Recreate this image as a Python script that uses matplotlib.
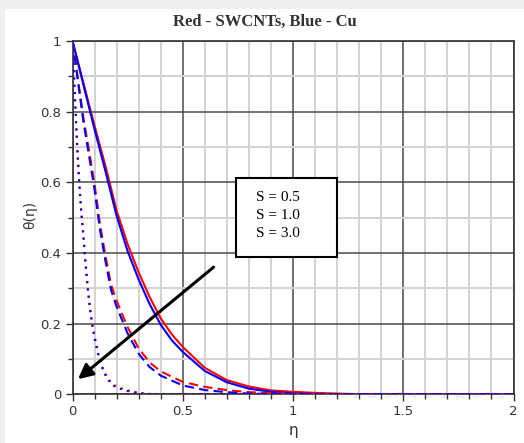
import matplotlib
matplotlib.use("Agg")
import matplotlib.pyplot as plt
from matplotlib.patches import Rectangle
from matplotlib.ticker import MultipleLocator

# ---- data ----
eta_s05 = [0, 0.05, 0.1, 0.15, 0.2, 0.25, 0.3, 0.35, 0.4, 0.45, 0.5, 0.6, 0.7, 0.8, 0.9, 1.0, 1.1, 1.2, 1.33, 2.0]
red_s05 = [1.0, 0.88, 0.76, 0.645, 0.52, 0.425, 0.345, 0.275, 0.215, 0.17, 0.134, 0.075, 0.04, 0.022, 0.011, 0.007, 0.004, 0.002, 0.0, 0.0]
blue_s05 = [1.0, 0.875, 0.75, 0.63, 0.505, 0.405, 0.325, 0.255, 0.197, 0.153, 0.12, 0.066, 0.034, 0.016, 0.007, 0.003, 0.001, 0.0, 0.0, 0.0]

eta_s10 = [0, 0.025, 0.05, 0.075, 0.1, 0.125, 0.15, 0.175, 0.2, 0.25, 0.3, 0.35, 0.4, 0.5, 0.6, 0.7, 0.8, 0.92, 1.1, 1.3, 2.0]
red_s10 = [1.0, 0.89, 0.78, 0.69, 0.595, 0.48, 0.39, 0.31, 0.265, 0.19, 0.13, 0.09, 0.065, 0.035, 0.021, 0.012, 0.006, 0.003, 0.001, 0.0, 0.0]
blue_s10 = [1.0, 0.885, 0.77, 0.675, 0.58, 0.465, 0.375, 0.295, 0.248, 0.172, 0.115, 0.077, 0.053, 0.025, 0.012, 0.006, 0.002, 0.001, 0.0, 0.0, 0.0]

eta_s30 = [0, 0.01, 0.02, 0.03, 0.04, 0.05, 0.06, 0.07, 0.08, 0.09, 0.1, 0.12, 0.14, 0.16, 0.18, 0.2, 0.25, 0.3, 0.35, 0.4, 2.0]
red_s30 = [1.0, 0.86, 0.72, 0.61, 0.52, 0.45, 0.37, 0.3, 0.245, 0.2, 0.165, 0.108, 0.07, 0.046, 0.03, 0.022, 0.011, 0.004, 0.001, 0.0, 0.0]
blue_s30 = [1.0, 0.855, 0.715, 0.6, 0.51, 0.44, 0.36, 0.29, 0.237, 0.193, 0.158, 0.102, 0.065, 0.042, 0.027, 0.019, 0.009, 0.003, 0.001, 0.0, 0.0]

box_labels = ["S = 0.5", "S = 1.0", "S = 3.0"]
title_text = "Red - SWCNTs, Blue - Cu"
xticks = [0, 0.5, 1, 1.5, 2]
xticklabels = ["0", "0.5", "1", "1.5", "2"]
yticks = [0, 0.2, 0.4, 0.6, 0.8, 1]
yticklabels = ["0", "0.2", "0.4", "0.6", "0.8", "1"]

# ---- figure ----
fig = plt.figure(figsize=(5.24, 4.43), dpi=100, facecolor="#efefef")
fig.patches.append(Rectangle((5 / 524, 0), 1, (443 - 9) / 443, transform=fig.transFigure,
                             facecolor="white", edgecolor="none", zorder=-10))

ax = fig.add_axes([72.5 / 524, 1 - 394.3 / 443, (513.5 - 72.5) / 524, (394.3 - 41) / 443])
ax.set_facecolor("white")
ax.set_xlim(0, 2)
ax.set_ylim(0, 1)

ax.xaxis.set_major_locator(MultipleLocator(0.5))
ax.xaxis.set_minor_locator(MultipleLocator(0.1))
ax.yaxis.set_major_locator(MultipleLocator(0.2))
ax.yaxis.set_minor_locator(MultipleLocator(0.1))
ax.set_xticks(xticks)
ax.set_xticklabels(xticklabels)
ax.set_yticks(yticks)
ax.set_yticklabels(yticklabels)

ax.grid(which="minor", color="#d2d2d2", lw=1.4, zorder=0)
ax.grid(which="major", color="#4a4a4a", lw=1.1, zorder=0.5)
ax.set_axisbelow(True)

ax.tick_params(which="both", direction="out", colors="#333333", labelsize=9.5, width=1)
ax.tick_params(which="major", length=5, pad=3)
ax.tick_params(which="minor", length=3.5)
for s in ax.spines.values():
    s.set_color("#333333")
    s.set_linewidth(1.2)

lw = 1.5
ax.plot(eta_s05, red_s05, color="red", lw=lw, zorder=3)
ax.plot(eta_s05, blue_s05, color="blue", lw=lw, zorder=3)
ax.plot(eta_s10, red_s10, color="red", lw=lw, dashes=(4.5, 2.5), zorder=3)
ax.plot(eta_s10, blue_s10, color="blue", lw=lw, dashes=(4.5, 2.5), zorder=3)
ax.plot(eta_s30, red_s30, color="red", lw=lw, dashes=(1, 2.5), zorder=3)
ax.plot(eta_s30, blue_s30, color="blue", lw=lw, dashes=(1, 2.5), zorder=3)

# arrow
ax.annotate("", xy=(0.025, 0.043), xytext=(0.64, 0.36),
            arrowprops=dict(arrowstyle="-|>", color="black", lw=2.2, mutation_scale=22,
                            shrinkA=0, shrinkB=0), zorder=5)

# annotation box
ax.add_patch(Rectangle((0.74, 0.39), 0.46, 0.223, facecolor="white", edgecolor="black",
                       lw=1.5, zorder=6))
for lab, yy in zip(box_labels, [0.556, 0.505, 0.455]):
    ax.text(0.833, yy, lab, family="Liberation Serif", fontsize=11, ha="left", va="center",
            color="black", zorder=7)

fig.text(265 / 524, 1 - 22 / 443, title_text, family="Liberation Serif", fontsize=12,
         fontweight="bold", color="#333333", ha="center", va="center")
fig.text(30 / 524, 1 - 215 / 443, "θ(η)", fontsize=10, color="#333333", rotation=90,
         ha="center", va="center")
fig.text(293 / 524, 1 - 430 / 443, "η", fontsize=11, color="#333333", ha="center", va="center")

fig.savefig("out.png", dpi=100, facecolor=fig.get_facecolor())
